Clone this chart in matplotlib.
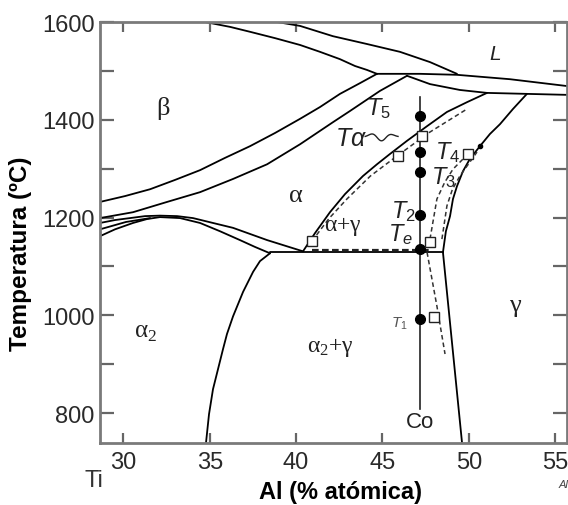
import matplotlib
matplotlib.use('Agg')
import matplotlib.pyplot as plt
import numpy as np

plt.rcParams['font.family'] = ['Liberation Sans', 'DejaVu Sans']
plt.rcParams['mathtext.fontset'] = 'custom'
plt.rcParams['mathtext.rm'] = 'Liberation Serif'
plt.rcParams['mathtext.it'] = 'Liberation Sans:italic'
plt.rcParams['mathtext.sf'] = 'Liberation Sans'
plt.rcParams['mathtext.bf'] = 'Liberation Serif:bold'

# ---------------- data (Al at.% , T in degC) ----------------
liq_top_al = [34.73, 36.18, 37.33, 38.78, 40.23, 41.38, 42.54, 43.41, 44.10, 44.68]
liq_top_t = [1600, 1590, 1580, 1567, 1553, 1539, 1524, 1510, 1502, 1494]

liq_b_al = [38.89, 40.23, 42.13, 44.10, 46.01, 47.75, 49.31]
liq_b_t = [1600, 1592, 1571, 1555, 1539, 1518, 1494]

peri_al = [44.68, 47.17, 49.31, 52.38, 55.68]
peri_t = [1494, 1494, 1492, 1483, 1469]

alpha_liq_al = [46.42, 47.75, 49.48, 51.05, 55.68]
alpha_liq_t = [1490, 1473, 1461, 1455, 1451]

beta_up_al = [28.65, 30.10, 31.55, 32.99, 34.44, 35.88, 37.33, 38.78, 40.23, 41.38, 42.54, 43.70, 44.68]
beta_up_t = [1232, 1244, 1258, 1277, 1297, 1322, 1346, 1373, 1402, 1426, 1453, 1475, 1494]

beta_lo_al = [28.65, 30.56, 32.53, 34.44, 36.35, 38.32, 40.23, 42.13, 43.12, 44.85, 46.42]
beta_lo_t = [1199, 1211, 1232, 1252, 1279, 1309, 1350, 1395, 1418, 1459, 1490]

dome_up_al = [28.65, 29.52, 30.39, 31.26, 32.12, 33.11, 34.03, 35.19, 36.35, 38.32, 40.40]
dome_up_t = [1189, 1195, 1199, 1203, 1204, 1203, 1199, 1189, 1179, 1154, 1131]

dome_lo_al = [28.65, 29.52, 30.56, 31.37, 32.12, 33.28, 34.44, 35.60, 36.75, 37.62, 38.49]
dome_lo_t = [1162, 1176, 1189, 1197, 1201, 1199, 1189, 1172, 1154, 1140, 1127]

dome_mid_al = [28.65, 30.15, 31.55]
dome_mid_t = [1176, 1191, 1199]

eut_al = [38.49, 48.50]
eut_t = [1129, 1129]
eut_dash_al = [40.9, 47.8]
eut_dash_t = [1133, 1133]

a2_al = [38.49, 37.91, 37.51, 36.93, 36.35, 36.00, 35.77, 35.48, 35.19, 34.96, 34.79]
a2_t = [1127, 1111, 1089, 1048, 998, 962, 931, 890, 849, 798, 741]

g_lo_al = [48.50, 49.60]
g_lo_t = [1129, 741]

g_up_al = [48.50, 48.67, 48.91, 49.08, 49.31, 49.66, 50.06, 50.64, 51.22, 51.80, 52.55, 53.36]
g_up_t = [1129, 1172, 1203, 1238, 1264, 1295, 1320, 1346, 1371, 1391, 1422, 1453]

a_trans_al = [40.40, 41.09, 41.96, 42.83, 43.87, 44.68, 45.43, 46.42, 47.58, 48.73, 49.89, 51.05]
a_trans_t = [1131, 1168, 1211, 1248, 1285, 1309, 1330, 1357, 1387, 1416, 1436, 1455]

dash_l_al = [40.92, 41.9, 42.94, 44.3, 45.84, 47.75, 49.89]
dash_l_t = [1152, 1198, 1238, 1285, 1326, 1375, 1422]

dash_r1_al = [47.75, 48.15, 48.6, 49.08, 50.06]
dash_r1_t = [1156, 1238, 1272, 1299, 1334]
dash_r2_al = [48.44, 48.73, 49.05, 49.48, 50.47]
dash_r2_t = [1156, 1224, 1258, 1285, 1334]

dash_low_al = [47.58, 48.15, 48.62]
dash_low_t = [1129, 1019, 921]

sq_al = [40.92, 45.90, 47.3, 47.75, 49.95, 48.0]
sq_t = [1152, 1326, 1366, 1150, 1330, 996]

co_al = 47.15
co_t = [1447, 808]

pt_t = [1408, 1334, 1293, 1205, 1136, 992]

extra_dot_al = [50.64]
extra_dot_t = [1346]

x_ticks = [30, 35, 40, 45, 50, 55]
y_ticks = [800, 1000, 1200, 1400, 1600]
y_minor = [900, 1100, 1300, 1500]

# ---------------- figure ----------------
fig = plt.figure(figsize=(5.68, 5.06), dpi=100)
ax = fig.add_axes([100/568, 1-444/506, 467/568, 421/506])
ax.set_xlim(28.65, 55.68)
ax.set_ylim(739, 1600)

lw = 1.3
for xs, ys in [(liq_top_al, liq_top_t), (liq_b_al, liq_b_t), (peri_al, peri_t),
               (alpha_liq_al, alpha_liq_t), (beta_up_al, beta_up_t),
               (beta_lo_al, beta_lo_t), (dome_up_al, dome_up_t),
               (dome_lo_al, dome_lo_t), (dome_mid_al, dome_mid_t),
               (eut_al, eut_t), (a2_al, a2_t), (g_lo_al, g_lo_t),
               (g_up_al, g_up_t), (a_trans_al, a_trans_t)]:
    ax.plot(xs, ys, color='black', lw=lw, solid_capstyle='round', solid_joinstyle='round')

for xs, ys in [(dash_l_al, dash_l_t), (dash_r1_al, dash_r1_t), (dash_r2_al, dash_r2_t),
               (dash_low_al, dash_low_t)]:
    ax.plot(xs, ys, color='#333333', lw=1.1, ls=(0, (3, 2)))
ax.plot(eut_dash_al, eut_dash_t, color='#222222', lw=1.6, ls=(0, (3, 1.5)))

# Co vertical line
ax.plot([co_al, co_al], co_t, color='#222222', lw=1.2)
ax.plot([co_al]*len(pt_t), pt_t, 'o', color='black', ms=7)
ax.plot(extra_dot_al, extra_dot_t, 'o', color='black', ms=3)
ax.plot(sq_al, sq_t, 's', mfc='white', mec='#222222', ms=6.5, mew=1)

# labels
lab = dict(color='#222222', ha='center', va='center')
ser = dict(family='Liberation Serif', **lab)
ax.text(32.3, 1426, r'$\mathrm{\beta}$', fontsize=19, **lab)
ax.text(51.5, 1535, 'L', fontsize=15, style='italic', **lab)
ax.text(40.0, 1248, r'$\mathrm{\alpha}$', fontsize=19, **lab)
ax.text(42.7, 1183, r'$\mathrm{\alpha}$+$\mathrm{\gamma}$', fontsize=17, **ser)
ax.text(31.3, 966, r'$\mathrm{\alpha}_\mathrm{2}$', fontsize=18, **ser)
ax.text(42.0, 937, r'$\mathrm{\alpha}_\mathrm{2}$+$\mathrm{\gamma}$', fontsize=17, **ser)
ax.text(52.7, 1019, r'$\mathrm{\gamma}$', fontsize=19, **lab)
ax.text(47.2, 782, 'Co', fontsize=16, **lab)

ax.text(44.75, 1425, r'$T_\mathsf{5}$', fontsize=17, **lab)
ax.text(48.75, 1335, r'$T_\mathsf{4}$', fontsize=17, **lab)
ax.text(48.5, 1283, r'$T_\mathsf{3}$', fontsize=17, **lab)
ax.text(46.2, 1215, r'$T_\mathsf{2}$', fontsize=17, **lab)
ax.text(46.05, 1168, r'$T_e$', fontsize=17, **lab)
ax.text(45.95, 985, r'$T_\mathsf{1}$', fontsize=11, color='#555555', ha='center', va='center')
ax.text(43.2, 1362, r'$T\alpha$', fontsize=18, **lab)

# wavy arrow from Talpha label to the Talpha point
wx = np.linspace(44.0, 45.9, 60)
wy = 1366 + 9*np.sin((wx-44.0)/1.9*2*np.pi*1.5)*np.exp(-((wx-44.9)**2)/0.5)
ax.plot(wx, wy, color='#222222', lw=1)

# axes styling
ax.set_xticks(x_ticks)
ax.set_yticks(y_ticks)
ax.set_yticks(y_minor, minor=True)
ax.tick_params(axis='both', which='both', direction='in', top=True, right=True,
               labelsize=17, labelcolor='#2a2a2a', color='#666666', width=1.6)
ax.tick_params(axis='y', which='both', length=10, pad=4)
ax.tick_params(axis='x', which='both', length=7, pad=6)
for s in ax.spines.values():
    s.set_color('#7a7a7a')
    s.set_linewidth(2)

ax.set_ylabel('Temperatura (ºC)', fontsize=17.5, fontweight='bold')
ax.yaxis.set_label_coords(-0.146, 0.451)
ax.set_xlabel('Al (% atómica)', fontsize=17, fontweight='bold')
ax.xaxis.set_label_coords(0.516, -0.088)

fig.text(94/568, 1-481/506, 'Ti', fontsize=17, color='#333333', ha='center', va='center')
fig.text(563/568, 1-485/506, 'Al', fontsize=8, style='italic', color='#444444', ha='center', va='center')

fig.savefig('out.png', dpi=100)
